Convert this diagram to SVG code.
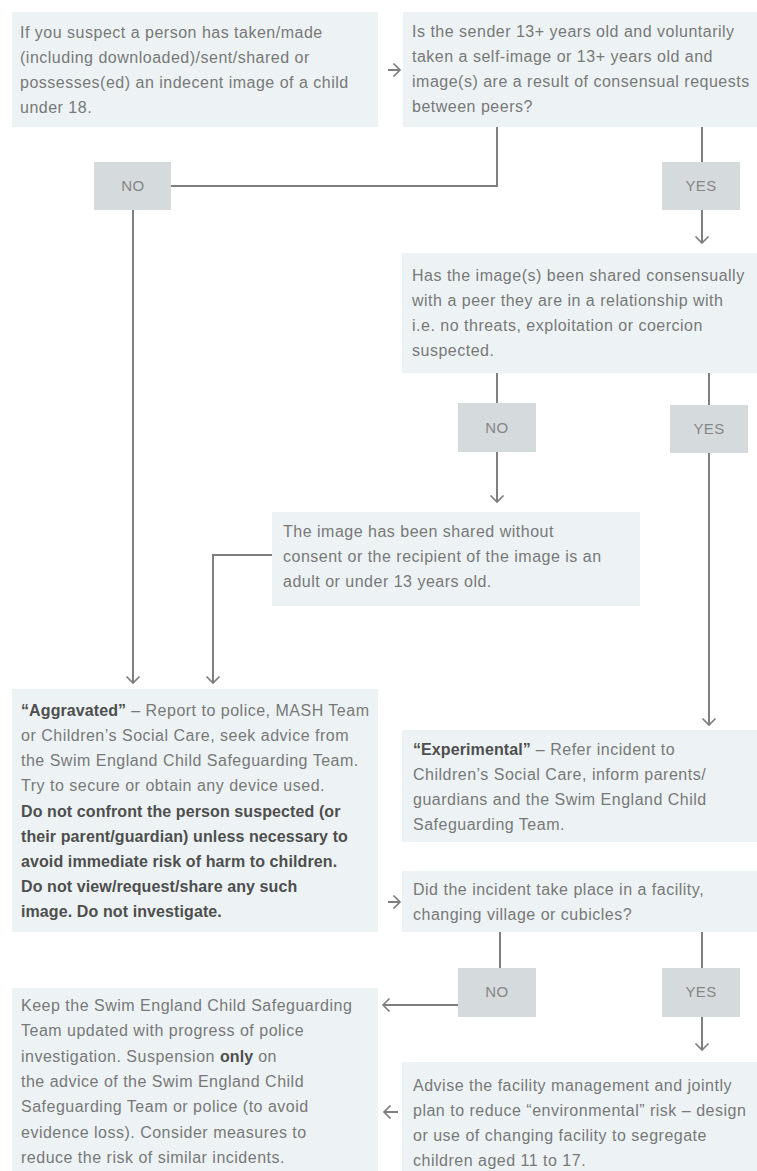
<svg xmlns="http://www.w3.org/2000/svg" width="757" height="1171" viewBox="0 0 757 1171">
<defs>
<style>
.box{fill:#edf3f5}
.lab{fill:#d5dbdd}
.t{font-family:"Liberation Sans",Arial,sans-serif;font-size:16px;letter-spacing:0.5px;fill:#787878}
.b{font-weight:bold;fill:#4e4e4e;letter-spacing:0.1px}
.lt{font-family:"Liberation Sans",Arial,sans-serif;font-size:15px;letter-spacing:0.4px;fill:#868686;text-anchor:middle}
.c{fill:none;stroke:#7f7f7f;stroke-width:2}
.a{marker-end:url(#ah)}
</style>
<marker id="ah" viewBox="-9 -9 11 18" markerWidth="11" markerHeight="18" refX="0" refY="0" orient="auto" markerUnits="userSpaceOnUse">
<path d="M-6.5,-6.5 L0,0 L-6.5,6.5" fill="none" stroke="#7f7f7f" stroke-width="1.7"/>
</marker>
</defs>

<g id="connectors">
<line class="c a" x1="388" y1="70" x2="400" y2="70"/>
<polyline class="c" points="497,127 497,186 171,186"/>
<line class="c a" x1="133" y1="210" x2="133" y2="683"/>
<line class="c" x1="702" y1="127" x2="702" y2="162"/>
<line class="c a" x1="702" y1="210" x2="702" y2="243"/>
<line class="c" x1="497" y1="373" x2="497" y2="403"/>
<line class="c" x1="709" y1="373" x2="709" y2="405"/>
<line class="c a" x1="497" y1="452" x2="497" y2="502"/>
<polyline class="c a" points="272,555 213,555 213,683"/>
<line class="c a" x1="709" y1="453" x2="709" y2="725"/>
<line class="c a" x1="388" y1="902" x2="400" y2="902"/>
<line class="c" x1="500" y1="932" x2="500" y2="968"/>
<line class="c" x1="702" y1="932" x2="702" y2="968"/>
<line class="c a" x1="458" y1="1005" x2="383" y2="1005"/>
<line class="c a" x1="702" y1="1017" x2="702" y2="1050"/>
<line class="c a" x1="398" y1="1112" x2="384" y2="1112"/>
</g>

<g id="start">
<rect class="box" x="12" y="12" width="366" height="115"/>
<text class="t"><tspan x="20" y="38">If you suspect a person has taken/made</tspan><tspan x="20" y="63">(including downloaded)/sent/shared or</tspan><tspan x="20" y="88">possesses(ed) an indecent image of a child</tspan><tspan x="20" y="113">under 18.</tspan></text>
</g>

<g id="q-age">
<rect class="box" x="403" y="12" width="354" height="115"/>
<text class="t"><tspan x="412" y="37">Is the sender 13+ years old and voluntarily</tspan><tspan x="412" y="62">taken a self-image or 13+ years old and</tspan><tspan x="412" y="87">image(s) are a result of consensual requests</tspan><tspan x="412" y="112">between peers?</tspan></text>
</g>

<g id="no1">
<rect class="lab" x="94" y="162" width="77" height="48"/>
<text class="lt" x="133" y="191">NO</text>
</g>

<g id="yes1">
<rect class="lab" x="662" y="162" width="78" height="48"/>
<text class="lt" x="701" y="191">YES</text>
</g>

<g id="q-consent">
<rect class="box" x="402" y="253" width="355" height="120"/>
<text class="t"><tspan x="412" y="281">Has the image(s) been shared consensually</tspan><tspan x="412" y="306">with a peer they are in a relationship with</tspan><tspan x="412" y="331">i.e. no threats, exploitation or coercion</tspan><tspan x="412" y="356">suspected.</tspan></text>
</g>

<g id="no2">
<rect class="lab" x="458" y="403" width="78" height="49"/>
<text class="lt" x="497" y="433">NO</text>
</g>

<g id="yes2">
<rect class="lab" x="670" y="405" width="78" height="48"/>
<text class="lt" x="709" y="434">YES</text>
</g>

<g id="no-consent">
<rect class="box" x="272" y="512" width="368" height="94"/>
<text class="t"><tspan x="283" y="537">The image has been shared without</tspan><tspan x="283" y="562">consent or the recipient of the image is an</tspan><tspan x="283" y="587">adult or under 13 years old.</tspan></text>
</g>

<g id="aggravated">
<rect class="box" x="12" y="689" width="366" height="243"/>
<text class="t"><tspan x="21" y="716"><tspan class="b">“Aggravated”</tspan> – Report to police, MASH Team</tspan><tspan x="21" y="741">or Children’s Social Care, seek advice from</tspan><tspan x="21" y="766">the Swim England Child Safeguarding Team.</tspan><tspan x="21" y="791">Try to secure or obtain any device used.</tspan><tspan class="b" x="21" y="817">Do not confront the person suspected (or</tspan><tspan class="b" x="21" y="842">their parent/guardian) unless necessary to</tspan><tspan class="b" x="21" y="867">avoid immediate risk of harm to children.</tspan><tspan class="b" x="21" y="892">Do not view/request/share any such</tspan><tspan class="b" x="21" y="917">image. Do not investigate.</tspan></text>
</g>

<g id="experimental">
<rect class="box" x="402" y="730" width="355" height="112"/>
<text class="t"><tspan x="413" y="755"><tspan class="b">“Experimental”</tspan> – Refer incident to</tspan><tspan x="413" y="780">Children’s Social Care, inform parents/</tspan><tspan x="413" y="805">guardians and the Swim England Child</tspan><tspan x="413" y="830">Safeguarding Team.</tspan></text>
</g>

<g id="q-facility">
<rect class="box" x="402" y="871" width="355" height="61"/>
<text class="t"><tspan x="413" y="895">Did the incident take place in a facility,</tspan><tspan x="413" y="920">changing village or cubicles?</tspan></text>
</g>

<g id="no3">
<rect class="lab" x="458" y="968" width="78" height="49"/>
<text class="lt" x="497" y="997">NO</text>
</g>

<g id="yes3">
<rect class="lab" x="662" y="968" width="78" height="49"/>
<text class="lt" x="701" y="997">YES</text>
</g>

<g id="keep-updated">
<rect class="box" x="12" y="988" width="366" height="183"/>
<text class="t"><tspan x="21" y="1011">Keep the Swim England Child Safeguarding</tspan><tspan x="21" y="1036">Team updated with progress of police</tspan><tspan x="21" y="1062">investigation. Suspension <tspan class="b">only</tspan> on</tspan><tspan x="21" y="1087">the advice of the Swim England Child</tspan><tspan x="21" y="1112">Safeguarding Team or police (to avoid</tspan><tspan x="21" y="1138">evidence loss). Consider measures to</tspan><tspan x="21" y="1163">reduce the risk of similar incidents.</tspan></text>
</g>

<g id="advise-facility">
<rect class="box" x="402" y="1062" width="355" height="109"/>
<text class="t"><tspan x="413" y="1091">Advise the facility management and jointly</tspan><tspan x="413" y="1116">plan to reduce “environmental” risk – design</tspan><tspan x="413" y="1141">or use of changing facility to segregate</tspan><tspan x="413" y="1166">children aged 11 to 17.</tspan></text>
</g>
</svg>
